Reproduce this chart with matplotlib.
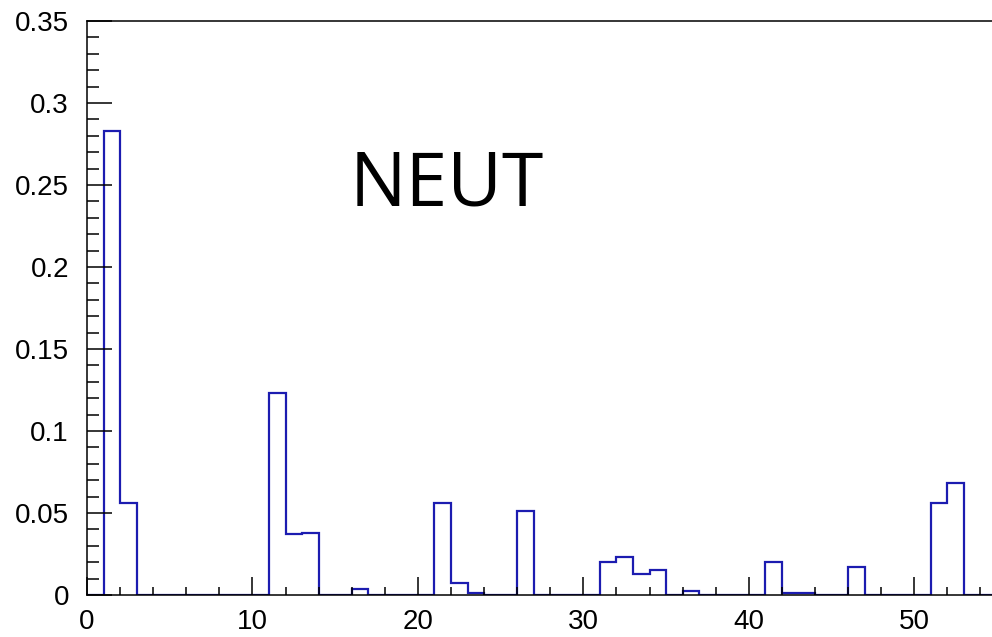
import numpy as np
import matplotlib
matplotlib.use('Agg')
import matplotlib.pyplot as plt
from matplotlib.ticker import MultipleLocator

# filled bins (lower edge) and their contents; other bins are empty
bin_lo = [1, 2, 11, 12, 13, 16, 21, 22, 23, 26, 31, 32, 33, 34, 36, 41, 42, 43, 46, 51, 52]
content = [0.283, 0.056, 0.123, 0.037, 0.038, 0.0035, 0.056, 0.0071, 0.001, 0.051,
           0.0203, 0.023, 0.013, 0.0152, 0.0023, 0.0203, 0.001, 0.001, 0.0173, 0.0563, 0.068]
label = 'NEUT'

edges = np.arange(0, 56, 1)
vals = np.zeros(len(edges) - 1)
vals[bin_lo] = content

plt.rcParams['font.family'] = ['Liberation Sans', 'DejaVu Sans']
fig = plt.figure(figsize=(9.92, 6.37), dpi=100)
ax = fig.add_axes([87/992, 1 - 595/637, 1 - 87/992, (595 - 21)/637])

ax.stairs(vals, edges, color='#1c1cb0', linewidth=1.6)

ax.set_xlim(0, 54.7)
ax.set_ylim(0, 0.35)
ax.xaxis.set_major_locator(MultipleLocator(10))
ax.xaxis.set_minor_locator(MultipleLocator(2))
ax.yaxis.set_minor_locator(MultipleLocator(0.01))
ax.set_yticks(np.arange(0, 0.351, 0.05))
ax.set_yticklabels(['0', '0.05', '0.1', '0.15', '0.2', '0.25', '0.3', '0.35'])

ax.tick_params(axis='both', which='both', direction='in', width=1.1, labelsize=20)
ax.tick_params(axis='y', which='major', length=18, pad=13)
ax.tick_params(axis='y', which='minor', length=8.6)
ax.tick_params(axis='x', which='major', length=13, pad=10)
ax.tick_params(axis='x', which='minor', length=6)
for s in ['left', 'bottom', 'top']:
    ax.spines[s].set_linewidth(1.1)
ax.spines['right'].set_visible(False)

fig.text(350/992, 1 - 205/637, label, fontsize=54, family='Open Sans', va='baseline', ha='left')

plt.savefig('out.png', dpi=100)
